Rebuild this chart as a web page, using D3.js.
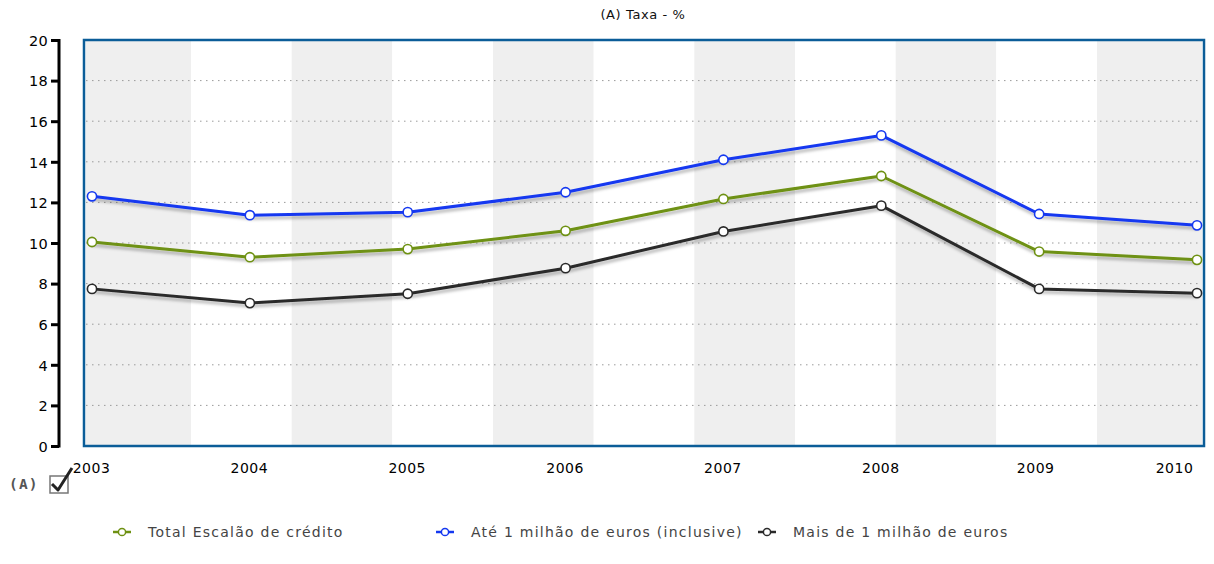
<!DOCTYPE html>
<html><head><meta charset="utf-8">
<script src="https://cdn.jsdelivr.net/npm/d3@7/dist/d3.min.js"></script>
<style>body{margin:0;background:#fff;} svg{display:block;}</style>
</head><body>
<svg id="chart" width="1214" height="564"></svg>
<script>
const years = ["2003","2004","2005","2006","2007","2008","2009","2010"];
const totalEscalao = [10.05, 9.3, 9.7, 10.6, 12.17, 13.3, 9.58, 9.17];
const ateUmMilhao = [12.3, 11.37, 11.52, 12.5, 14.1, 15.3, 11.43, 10.87];
const maisUmMilhao = [7.74, 7.04, 7.5, 8.76, 10.57, 11.84, 7.74, 7.53];
const yTicks = [0,2,4,6,8,10,12,14,16,18,20];
const seriesNames = ["Total Escalão de crédito","Até 1 milhão de euros (inclusive)","Mais de 1 milhão de euros"];
const seriesColors = ["#6e9112","#1438f0","#2a2a2a"];
const title = "(A) Taxa - %";

const svg = d3.select("#chart");
const frame = {left:84, top:40, right:1204, bottom:446};
const x = d3.scalePoint().domain(years).range([92,1197]);
const y = d3.scaleLinear().domain([0,20]).range([446,40]);

const defs = svg.append("defs");
const f = defs.append("filter").attr("id","shadow").attr("x","-5%").attr("y","-20%").attr("width","110%").attr("height","160%");
f.append("feDropShadow").attr("dx",1).attr("dy",3).attr("stdDeviation",1.6).attr("flood-color","#000").attr("flood-opacity",0.28);

// title
svg.append("text").attr("x",643).attr("y",19).attr("text-anchor","middle")
  .attr("font-family","DejaVu Sans").attr("font-size",13).attr("letter-spacing",0.6).attr("fill","#111").text(title);

// background bands
const nb = 11;
const bandScale = d3.scaleLinear().domain([1,10]).range([191,1097]);
const bands = d3.range(nb).map(k=>{
  const x0 = k===0 ? frame.left+2 : bandScale(k);
  const x1 = k===nb-1 ? frame.right-2 : bandScale(k+1);
  return {k, x0, x1};
});
svg.append("g").selectAll("rect").data(bands).join("rect")
  .attr("x",d=>d.x0).attr("y",frame.top).attr("width",d=>d.x1-d.x0).attr("height",frame.bottom-frame.top)
  .attr("fill",d=>d.k%2===0?"#efefef":"#ffffff");

// grid
svg.append("g").selectAll("line").data(yTicks.filter(t=>t>0&&t<20)).join("line")
  .attr("x1",frame.left+2).attr("x2",frame.right-2).attr("y1",d=>y(d)).attr("y2",d=>y(d))
  .attr("stroke","#9a9a9a").attr("stroke-width",1).attr("stroke-dasharray","1.5,4.5");

// frame
svg.append("rect").attr("x",frame.left).attr("y",frame.top).attr("width",frame.right-frame.left).attr("height",frame.bottom-frame.top)
  .attr("fill","none").attr("stroke","#0b5d98").attr("stroke-width",2.5);

// y axis
const yAxis = d3.axisLeft(y).tickValues(yTicks).tickSize(8).tickPadding(3);
const ya = svg.append("g").attr("transform","translate(59,0)").call(yAxis);
ya.select(".domain").attr("stroke","#000").attr("stroke-width",3).attr("d","M0,"+(y(20)-1)+"V"+(y(0)+1.5));
ya.selectAll(".tick line").attr("stroke","#000").attr("stroke-width",3);
ya.selectAll("text").attr("font-family","DejaVu Sans").attr("font-size",14.5).attr("letter-spacing",0.3).attr("fill","#000").attr("dy","0.36em");

// x labels
const xAxis = d3.axisBottom(x).tickSize(0).tickPadding(0);
const xa = svg.append("g").attr("transform","translate(0,473)").call(xAxis);
xa.select(".domain").remove();
xa.selectAll("text").attr("font-family","DejaVu Sans").attr("font-size",14).attr("letter-spacing",0.5).attr("fill","#000").attr("dy","0")
  .attr("dx",(d,i)=> i===years.length-1 ? -23 : (i===years.length-2 ? -4 : -1));

// lines
const allSeries = [totalEscalao, ateUmMilhao, maisUmMilhao];
const line = d3.line().x((d,i)=>x(years[i])).y(d=>y(d));
const order = [2,0,1];
order.forEach(si=>{
  const g = svg.append("g");
  g.append("path").datum(allSeries[si]).attr("d",line).attr("fill","none")
    .attr("stroke",seriesColors[si]).attr("stroke-width",3).attr("stroke-linejoin","round").attr("filter","url(#shadow)");
  g.selectAll("circle").data(allSeries[si]).join("circle")
    .attr("cx",(d,i)=>x(years[i])).attr("cy",d=>y(d)).attr("r",4.6)
    .attr("fill","#fff").attr("stroke",seriesColors[si]).attr("stroke-width",1.6);
});

// (A) checkbox
svg.append("text").attr("x",9).attr("y",489).attr("font-family","DejaVu Sans Mono").attr("font-weight","bold")
  .attr("font-size",14.5).attr("letter-spacing",1.2).attr("fill","#555").text("(A)");
svg.append("rect").attr("x",50).attr("y",476).attr("width",18).attr("height",17).attr("fill","#fff")
  .attr("stroke","#777").attr("stroke-width",1.5);
svg.append("path").attr("d","M52,484 L58,490 L72,468").attr("fill","none").attr("stroke","#222").attr("stroke-width",3)
  .attr("stroke-linejoin","round");

// legend
const legX = [113, 436, 758];
const lg = svg.append("g");
seriesNames.forEach((n,i)=>{
  const g = lg.append("g").attr("transform",`translate(${legX[i]},532)`);
  g.append("line").attr("x1",0).attr("x2",18).attr("y1",0).attr("y2",0).attr("stroke",seriesColors[i]).attr("stroke-width",2.5);
  g.append("circle").attr("cx",9).attr("cy",0).attr("r",3.6).attr("fill","#fff").attr("stroke",seriesColors[i]).attr("stroke-width",1.5);
  g.append("text").attr("x",35).attr("y",5).attr("font-family","DejaVu Sans").attr("font-size",14)
    .attr("letter-spacing",1.25).attr("fill","#444").text(n);
});
</script>
</body></html>
